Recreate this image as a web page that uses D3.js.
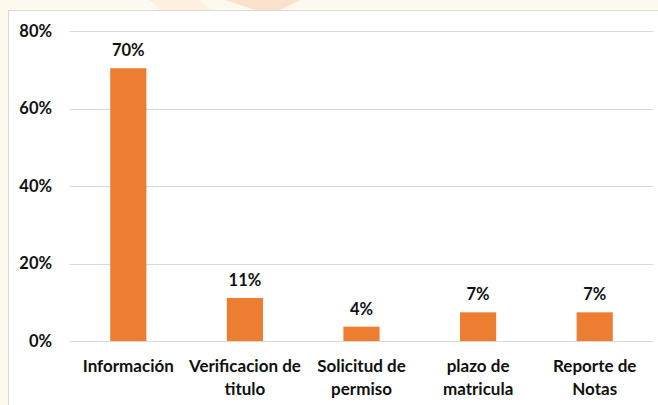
<!DOCTYPE html>
<html>
<head>
<meta charset="utf-8">
<script src="https://cdn.jsdelivr.net/npm/d3@7"></script>
<style>
  body { margin: 0; background: #fff; }
  svg { display: block; }
</style>
</head>
<body>
<div id="chart"></div>
<script>
var categories = ["Información", "Verificacion de titulo", "Solicitud de permiso", "plazo de matricula", "Reporte de Notas"]
var values = [70.4, 11.1, 3.7, 7.4, 7.4]
var labels = ["70%", "11%", "4%", "7%", "7%"]
var ticks = [0, 20, 40, 60, 80]

var W = 658, H = 405
var margin = {top: 31, right: 5, bottom: 64, left: 70},
    width = W - margin.left - margin.right,
    height = H - margin.top - margin.bottom;

var root = d3.select("#chart")
  .append("svg")
    .attr("width", W)
    .attr("height", H)

// faint background outside the chart box
root.append("rect")
  .attr("width", W).attr("height", H)
  .attr("fill", "#fdf9ef")
root.append("path")
  .attr("d", "M225,0 L255,10 L280,10 L300,0 Z")
  .attr("fill", "#fbe1cc")
root.append("path")
  .attr("d", "M150,0 L200,0 L210,10 L160,10 Z")
  .attr("fill", "#fdf0e0")

// chart box
root.append("rect")
  .attr("x", 8.5).attr("y", 10.5)
  .attr("width", W).attr("height", H)
  .attr("fill", "#fff")
  .attr("stroke", "#d9d9d9")
  .attr("stroke-width", 1)

var svg = root.append("g")
  .attr("transform", "translate(" + margin.left + "," + margin.top + ")");

var x = d3.scaleBand()
  .domain(categories)
  .range([0, width])
  .paddingInner(0.69)
  .paddingOuter(0.345)

var y = d3.scaleLinear()
  .domain([0, 80])
  .range([height, 0])

var font = "Lato, 'Open Sans', sans-serif"

// gridlines
svg.append("g")
  .selectAll("line")
  .data(ticks)
  .enter()
  .append("line")
  .attr("x1", 0)
  .attr("x2", width)
  .attr("y1", function(d) { return Math.round(y(d)) + 0.5 })
  .attr("y2", function(d) { return Math.round(y(d)) + 0.5 })
  .style("stroke", "#d9d9d9")
  .style("stroke-width", 1.2)

// y axis labels
var yAxis = svg.append("g")
  .call(d3.axisLeft(y).tickValues(ticks).tickSize(0).tickPadding(18).tickFormat(function(d) { return d + "%" }))
yAxis.select(".domain").remove()
yAxis.selectAll("text")
  .style("font-family", font)
  .style("font-weight", "bold")
  .style("font-size", "16.5px")
  .style("fill", "#111")

// bars
svg.append("g")
  .selectAll("rect")
  .data(values)
  .enter()
  .append("rect")
  .attr("x", function(d, i) { return x(categories[i]) })
  .attr("y", function(d) { return y(d) })
  .attr("width", x.bandwidth())
  .attr("height", function(d) { return height - y(d) })
  .style("fill", "#ed7d31")

// value labels
svg.append("g")
  .selectAll("text")
  .data(values)
  .enter()
  .append("text")
  .attr("x", function(d, i) { return x(categories[i]) + x.bandwidth() / 2 })
  .attr("y", function(d) { return y(d) - 12 })
  .attr("text-anchor", "middle")
  .style("font-family", font)
  .style("font-weight", "bold")
  .style("font-size", "16.5px")
  .style("fill", "#111")
  .text(function(d, i) { return labels[i] })

// category labels, wrapped in two lines
var catWrap = [["Información"], ["Verificacion de", "titulo"], ["Solicitud de", "permiso"], ["plazo de", "matricula"], ["Reporte de", "Notas"]]
var cat = svg.append("g")
  .selectAll("text")
  .data(categories)
  .enter()
  .append("text")
  .attr("x", function(d) { return x(d) + x.bandwidth() / 2 })
  .attr("y", height + 31)
  .attr("text-anchor", "middle")
  .style("font-family", font)
  .style("font-weight", "bold")
  .style("font-size", "17px")
  .style("fill", "#111")
cat.each(function(d, i) {
  var t = d3.select(this)
  catWrap[i].forEach(function(line, j) {
    t.append("tspan")
      .attr("x", x(d) + x.bandwidth() / 2)
      .attr("dy", j == 0 ? 0 : 23)
      .text(line)
  })
})
</script>
</body>
</html>
